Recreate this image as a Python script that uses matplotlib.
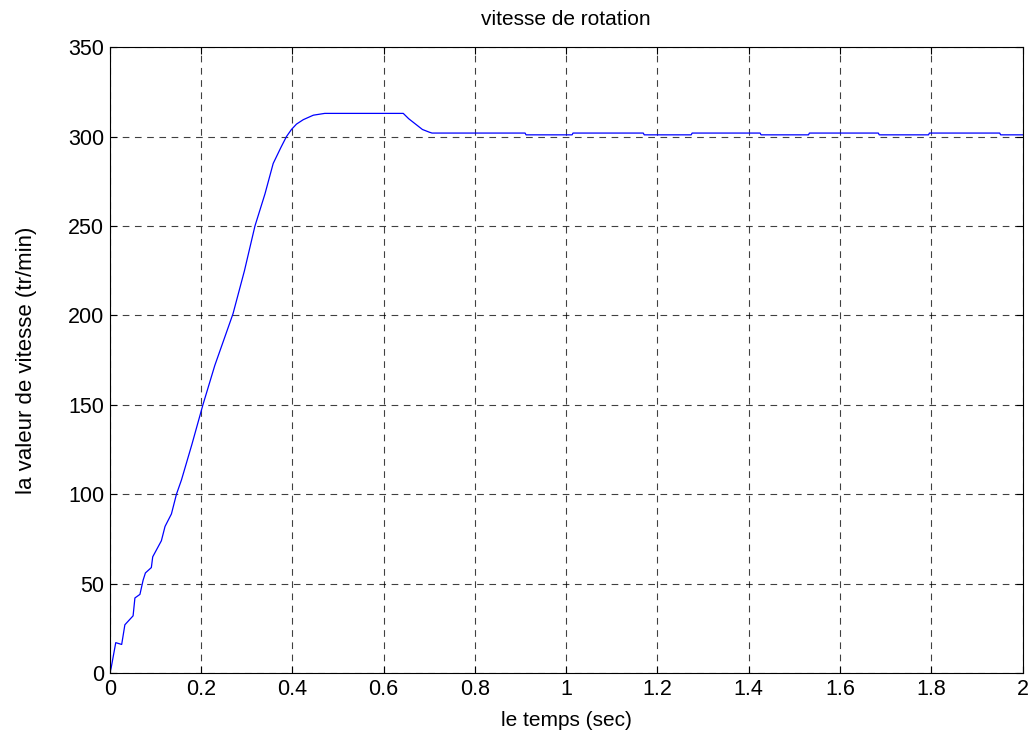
import matplotlib
matplotlib.use("Agg")
import matplotlib.pyplot as plt

plt.rcParams["font.family"] = ["Liberation Sans", "DejaVu Sans"]

# time (s) and speed (tr/min)
t = [0.0, 0.003, 0.008, 0.013, 0.026, 0.033, 0.051, 0.055, 0.066, 0.073,
     0.078, 0.091, 0.094, 0.113, 0.121, 0.135, 0.146, 0.157, 0.18, 0.204,
     0.23, 0.259, 0.27, 0.295, 0.318, 0.34, 0.358, 0.375, 0.387, 0.398,
     0.409, 0.424, 0.446, 0.471, 0.55, 0.643, 0.655, 0.67, 0.685, 0.7,
     0.706, 0.91, 0.912, 1.013, 1.015, 1.169, 1.171, 1.274, 1.276, 1.425,
     1.427, 1.531, 1.533, 1.684, 1.686, 1.794, 1.796, 1.95, 1.952, 2.0]
speed = [0.0, 3, 10, 17, 16, 27, 32, 42, 44, 52,
         56, 59, 65, 74, 82, 89, 100, 108, 128, 150,
         172, 193, 201, 225, 250, 268, 285, 294, 300, 304,
         307, 309.5, 312, 313, 313, 313, 310, 307, 304, 302.5,
         302, 302, 301, 301, 302, 302, 301, 301, 302, 302,
         301, 301, 302, 302, 301, 301, 302, 302, 301, 301]

fig = plt.figure(figsize=(10.36, 7.38), dpi=100)
ax = fig.add_axes([0.106, 0.088, 0.881, 0.848])
ax.plot(t, speed, color="blue", linewidth=0.9)

ax.set_xlim(0, 2)
ax.set_ylim(0, 350)
ax.set_xticks([0, 0.2, 0.4, 0.6, 0.8, 1, 1.2, 1.4, 1.6, 1.8, 2])
ax.set_xticklabels(["0", "0.2", "0.4", "0.6", "0.8", "1", "1.2", "1.4", "1.6", "1.8", "2"])
ax.set_yticks(range(0, 351, 50))
ax.grid(True, color="black", linestyle=(0, (6, 5)), linewidth=0.8, alpha=0.75)
ax.tick_params(labelsize=15.5, direction="in", length=5, pad=4)
ax.tick_params(top=True, right=True)

ax.set_title("vitesse de rotation", fontsize=15, pad=16)
ax.set_xlabel("le temps (sec)", fontsize=15, labelpad=8)
ax.set_ylabel("la valeur de vitesse (tr/min)", fontsize=16, labelpad=22)

plt.savefig("out.png", dpi=100)
plt.close()
